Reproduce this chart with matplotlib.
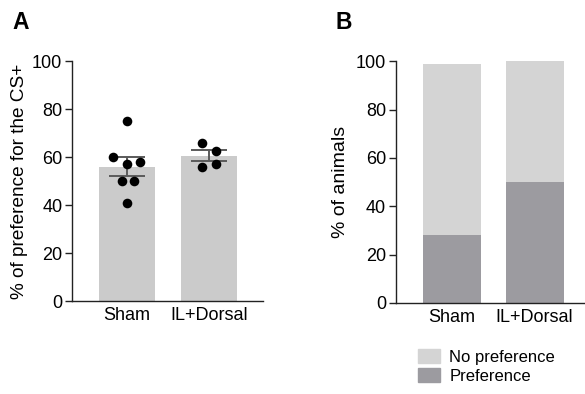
import matplotlib.pyplot as plt
from matplotlib.patches import Patch

plt.rcParams['font.family'] = ['Liberation Sans', 'DejaVu Sans']

groups = ["Sham", "IL+Dorsal"]

# panel A: individual animals (% preference for CS+)
sham_pts = [75, 60, 57, 58, 50, 50, 41]
sham_jit = [0, -0.17, 0, 0.16, -0.06, 0.08, 0]
il_pts = [66, 62.6, 56, 57]
il_jit = [-0.09, 0.09, -0.09, 0.09]
means = [56, 60.5]
sems = [4.0, 2.25]

# panel B: % of animals
pref = [28, 50]
no_pref = [71, 50]

bar_a = "#cbcbcb"
col_nopref = "#d4d4d4"
col_pref = "#9c9ba0"
axis_col = "#222222"

fig = plt.figure(figsize=(5.85, 3.94), dpi=100)

# ---- panel A
axA = fig.add_axes([0.1231, 0.236, 0.3265, 0.609])
x = [0, 1]
axA.bar(x, means, width=0.68, color=bar_a, zorder=1)
axA.errorbar(x, means, yerr=sems, fmt="none", ecolor="#5a5a5a", elinewidth=1.4,
             capsize=13, capthick=1.4, zorder=3)
axA.scatter([0 + j for j in sham_jit], sham_pts, s=48, color="black", zorder=4, linewidths=0)
axA.scatter([1 + j for j in il_jit], il_pts, s=48, color="black", zorder=4, linewidths=0)
axA.set_xlim(-0.671, 1.659)
axA.set_ylim(0, 100)
axA.set_yticks([0, 20, 40, 60, 80, 100])
axA.set_xticks(x)
axA.set_xticklabels(groups)
axA.set_ylabel("% of preference for the CS+", fontsize=13.7, labelpad=3)

# ---- panel B
axB = fig.add_axes([0.6764, 0.231, 0.3236, 0.6134])
axB.bar(x, pref, width=0.70, color=col_pref, zorder=1)
axB.bar(x, no_pref, bottom=pref, width=0.70, color=col_nopref, zorder=1)
axB.set_xlim(-0.677, 1.608)
axB.set_ylim(0, 100)
axB.set_yticks([0, 20, 40, 60, 80, 100])
axB.set_xticks(x)
axB.set_xticklabels(groups)
axB.set_ylabel("% of animals", fontsize=14, labelpad=5)

for ax in (axA, axB):
    ax.spines["top"].set_visible(False)
    ax.spines["right"].set_visible(False)
    for s in ("left", "bottom"):
        ax.spines[s].set_color(axis_col)
        ax.spines[s].set_linewidth(1.0)
    ax.tick_params(axis="y", length=5, width=1.0, color=axis_col, labelsize=13, pad=2)
    ax.tick_params(axis="x", length=0, labelsize=13, pad=4)

fig.text(0.022, 0.926, "A", fontsize=16.5, fontweight="bold")
fig.text(0.573, 0.926, "B", fontsize=16.5, fontweight="bold")

handles = [Patch(color=col_nopref, label="No preference"),
           Patch(color=col_pref, label="Preference")]
fig.legend(handles=handles, loc="upper left", bbox_to_anchor=(0.7145, 0.113),
           frameon=False, fontsize=12, handlelength=1.32, handleheight=0.85,
           handletextpad=0.55, labelspacing=0.2, borderaxespad=0, borderpad=0)

fig.savefig("out.png", dpi=100)
